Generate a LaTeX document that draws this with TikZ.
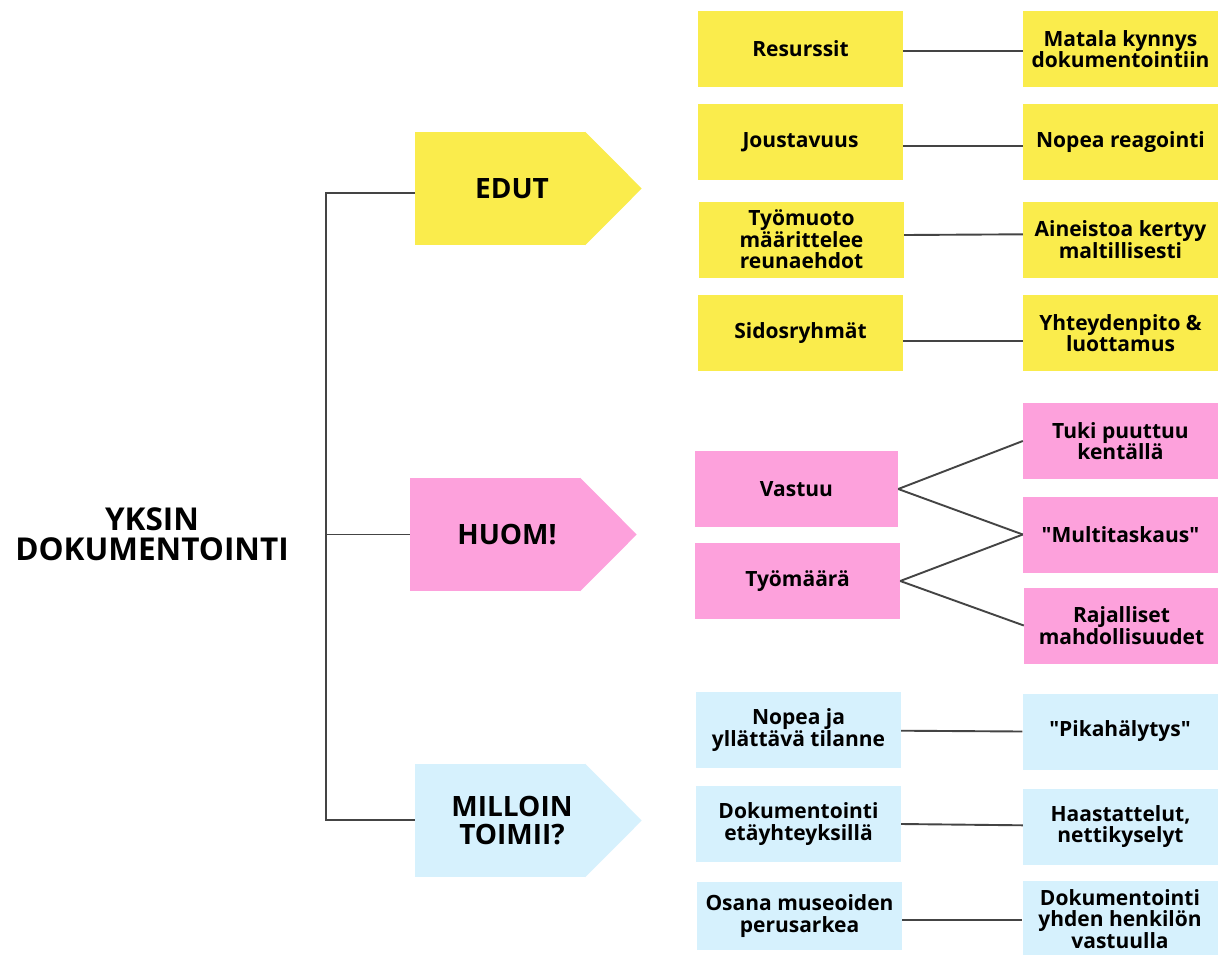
\documentclass[tikz,border=0pt]{standalone}
\usepackage{fontspec}
\setmainfont{Open Sans}[Ligatures=TeXOff]
\definecolor{stickyyellow}{HTML}{FAEC4C}
\definecolor{stickypink}{HTML}{FDA1DC}
\definecolor{stickyblue}{HTML}{D6F1FD}
\definecolor{wire}{HTML}{444444}
\begin{document}
\begin{tikzpicture}[x=1pt,y=-1pt,
  card/.style={rectangle, inner sep=0pt, minimum width=205pt, minimum height=76pt,
    align=center, font=\bfseries\fontsize{21}{21.5}\selectfont},
  rcard/.style={card, minimum width=195pt},
  yel/.style={fill=stickyyellow},
  pnk/.style={fill=stickypink},
  blu/.style={fill=stickyblue},
  head/.style={rectangle, inner sep=0pt, minimum width=170pt, minimum height=113pt,
    align=center, font=\bfseries\fontsize{28}{28}\selectfont},
  link/.style={draw=wire, line width=1.9pt}]

% page frame
\fill[white] (0,0) rectangle (1218,954);
\useasboundingbox (0,0) rectangle (1218,954);

% root title
\node[align=center, font=\bfseries\fontsize{31.5}{30.5}\selectfont] (root) at (152,534)
  {YKSIN\\DOKUMENTOINTI};

% category arrows (rectangle body + pointed tip)
\node[head, yel] (edut) at (500,188.5) {\hspace*{24pt}EDUT};
\fill[stickyyellow] (edut.north east) -- ([xshift=56.5pt]edut.east) -- (edut.south east) -- cycle;

\node[head, pnk] (huom) at (495,534.5) {\hspace*{24pt}HUOM!};
\fill[stickypink] (huom.north east) -- ([xshift=56.5pt]huom.east) -- (huom.south east) -- cycle;

\node[head, blu] (milloin) at (500,820.5) {\hspace*{24pt}MILLOIN\\\hspace*{24pt}TOIMII?};
\fill[stickyblue] (milloin.north east) -- ([xshift=56.5pt]milloin.east) -- (milloin.south east) -- cycle;

% trunk
\coordinate (ta) at (326,193.3);
\coordinate (tb) at (326,820);
\draw[link] ([yshift=-4.8pt]edut.west) -- (ta) -- (tb) -- ([yshift=0.5pt]milloin.west);
\draw[link] (huom.west) -- (huom.west -| ta);

% EDUT branch
\node[card, yel] (res)  at (800.5,49)    {Resurssit};
\node[card, yel] (jou)  at (800.5,142)   {Joustavuus};
\node[card, yel] (tyo)  at (801.5,239.5) {Työmuoto\\määrittelee\\reunaehdot};
\node[card, yel] (sid)  at (800.5,333)   {Sidosryhmät};
\node[rcard, yel] (mat) at (1120.5,49)    {Matala kynnys\\dokumentointiin};
\node[rcard, yel] (nop) at (1120.5,142)   {Nopea reagointi};
\node[rcard, yel] (ain) at (1120.5,239.5) {Aineistoa kertyy\\maltillisesti};
\node[rcard, yel] (yht) at (1120.5,333)   {Yhteydenpito \&\\luottamus};

\draw[link] ([yshift=-1.7pt]res.east) -- ([yshift=-1.7pt]mat.west);
\draw[link] ([yshift=-4pt]jou.east) -- ([yshift=-4pt]nop.west);
\draw[link] ([yshift=4.5pt]tyo.east) -- ([yshift=5.2pt]ain.west);
\draw[link] ([yshift=-7.7pt]sid.east) -- ([yshift=-7.7pt]yht.west);

% HUOM branch
\node[card, pnk, minimum width=203pt] (vas) at (796.5,489) {Vastuu};
\node[card, pnk] (maa) at (797.5,581) {Työmäärä};
\node[rcard, pnk] (tuk) at (1120.5,441)   {Tuki puuttuu\\kentällä};
\node[rcard, pnk] (mul) at (1120.5,534.5) {"Multitaskaus"};
\node[rcard, pnk] (raj) at (1121.5,625.5) {Rajalliset\\mahdollisuudet};

\draw[link] (vas.east) -- (tuk.west);
\draw[link] (vas.east) -- (mul.west);
\draw[link] (maa.east) -- (mul.west);
\draw[link] (maa.east) -- (raj.west);

% MILLOIN branch
\node[card, blu] (nja) at (798.5,730) {Nopea ja\\yllättävä tilanne};
\node[card, blu] (eta) at (798.5,824) {Dokumentointi\\etäyhteyksillä};
\node[card, blu, minimum height=68pt] (osa) at (799.5,916) {Osana museoiden\\perusarkea};
\node[rcard, blu] (pik) at (1120,731.5)   {"Pikahälytys"};
\node[rcard, blu] (haa) at (1120.5,826.5) {Haastattelut,\\nettikyselyt};
\node[rcard, blu] (yhd) at (1120,919)     {Dokumentointi\\yhden henkilön\\vastuulla};

\draw[link] ([yshift=-0.7pt]nja.east) -- (pik.west);
\draw[link] (eta.east) -- ([yshift=1.2pt]haa.west);
\draw[link] ([yshift=-4pt]osa.east) -- ([yshift=-1pt]yhd.west);
\end{tikzpicture}
\end{document}
